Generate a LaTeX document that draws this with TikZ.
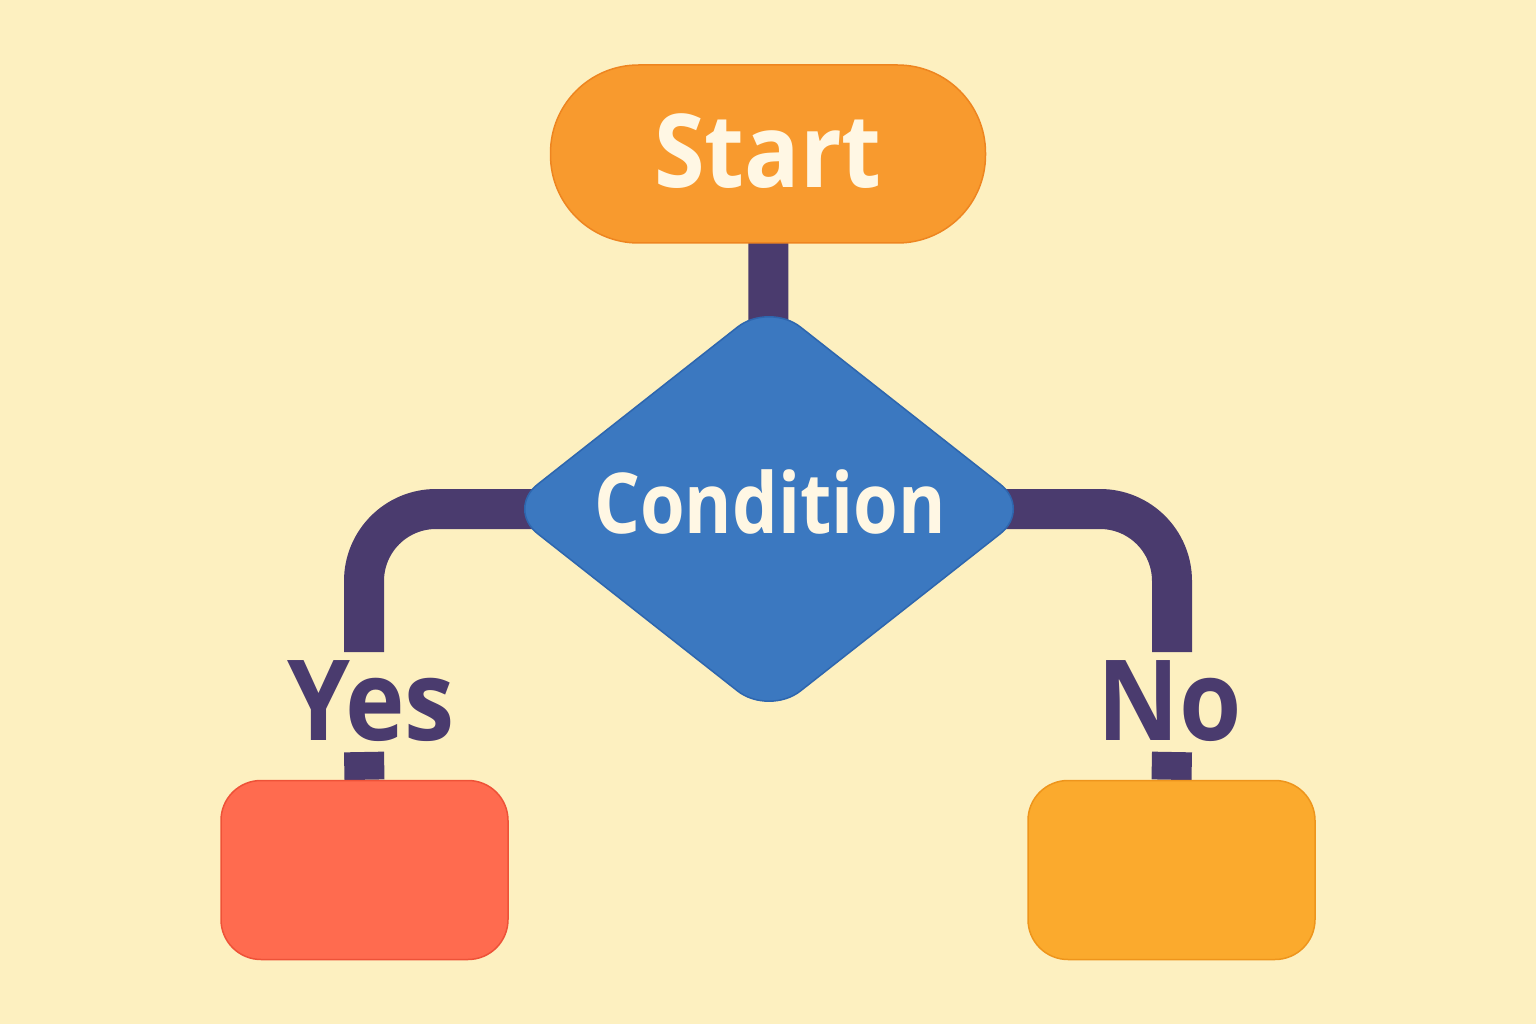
\documentclass[tikz,border=0pt]{standalone}
\usepackage{fontspec}
\setmainfont{Open Sans}[FakeStretch=0.9]
\newfontfamily\condfont{Open Sans}[FakeStretch=0.86]
\usetikzlibrary{shapes.geometric,backgrounds}
\definecolor{bgc}{HTML}{FDF0C0}
\definecolor{startc}{HTML}{F89A2E}
\definecolor{startd}{HTML}{EE8520}
\definecolor{condc}{HTML}{3B78C0}
\definecolor{condd}{HTML}{2E66AE}
\definecolor{purp}{HTML}{4A3B6E}
\definecolor{redc}{HTML}{FF6B4F}
\definecolor{redd}{HTML}{EE5238}
\definecolor{orc}{HTML}{FBAA2D}
\definecolor{ord}{HTML}{EE951C}
\definecolor{cream}{HTML}{FFF7E4}
\tikzset{
  conn/.style={draw=purp,line width=40pt},
  boxnode/.style={rectangle,rounded corners=40pt,minimum width=287pt,minimum height=179pt,line width=1.5pt},
  lbl/.style={anchor=base,font=\bfseries\fontsize{112}{112}\selectfont,text=purp,inner sep=0pt}
}
\begin{document}
\begin{tikzpicture}[x=1pt,y=-1pt]
\useasboundingbox (0,0) rectangle (1536,1024);
\node[rectangle,rounded corners=88pt,minimum width=435pt,minimum height=178pt,fill=startc,draw=startd,line width=1.5pt] (start) at (768,154) {};
\node[anchor=base,font=\bfseries\fontsize{102}{102}\selectfont,text=cream,inner sep=0pt] (starttxt) at (768,188) {Start};
\node[diamond,rounded corners=40pt,minimum width=526pt,minimum height=414pt,inner sep=0pt,fill=condc,draw=condd,line width=1.5pt] (cond) at (769,509) {};
\node[anchor=base,font=\condfont\bfseries\fontsize{84}{84}\selectfont,text=cream,inner sep=0pt] (condtxt) at (770,533) {Condition};
\node[boxnode,fill=redc,draw=redd] (yesbox) at (364.5,870) {};
\node[boxnode,fill=orc,draw=ord] (nobox) at (1171.5,870) {};
\coordinate (yend) at (364,652);
\coordinate (ybeg) at (364,752);
\coordinate (nend) at (1172,652);
\coordinate (nbeg) at (1172,752);
\node[lbl] (yes) at (371,740) {Yes};
\node[lbl] (no) at (1170,740) {No};
\begin{scope}[on background layer]
\fill[bgc] (0,0) rectangle (1536,1024);
\draw[conn] (start.center) -- (cond.center);
\draw[conn,rounded corners=72pt] (cond.center) -| (yend);
\draw[conn,rounded corners=72pt] (cond.center) -| (nend);
\draw[conn] (ybeg) -- (yesbox.north);
\draw[conn] (nbeg) -- (nobox.north);
\end{scope}
\end{tikzpicture}
\end{document}
